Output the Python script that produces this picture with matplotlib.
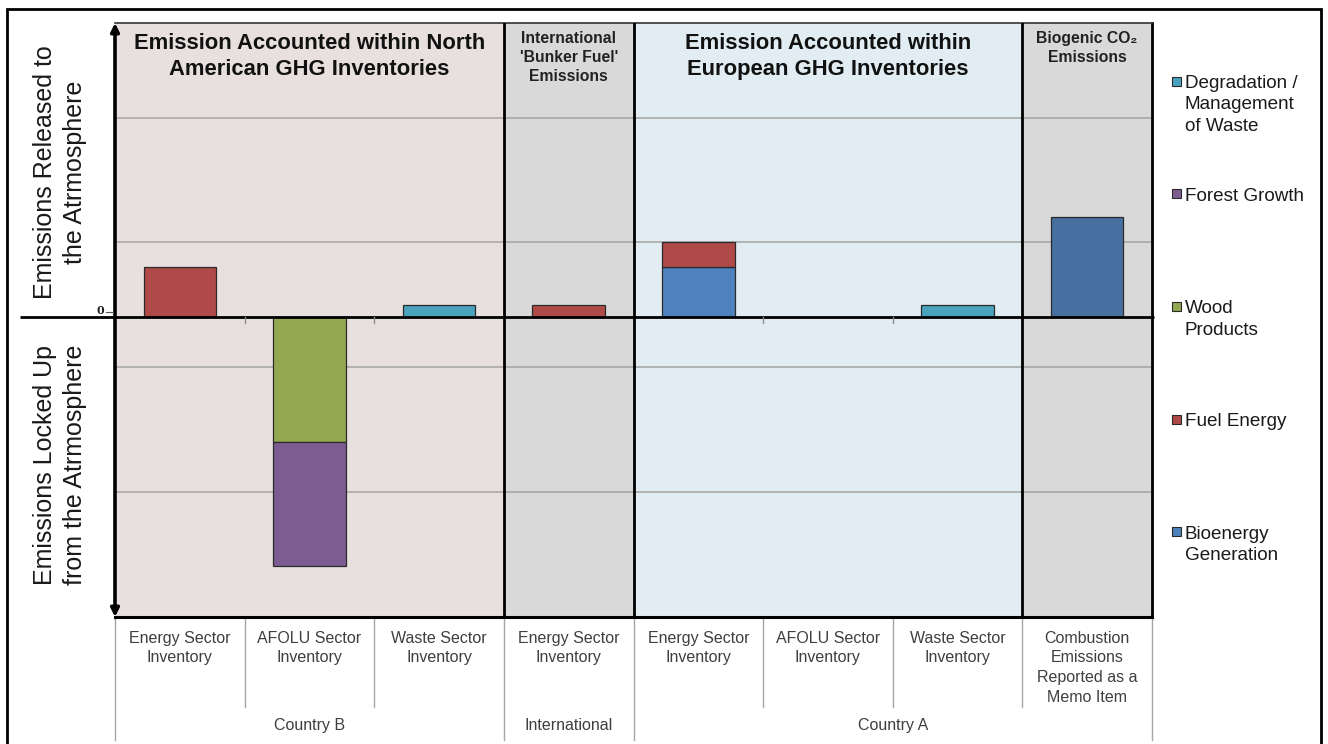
import matplotlib
matplotlib.use("Agg")
import matplotlib.pyplot as plt
from matplotlib.lines import Line2D
from matplotlib.patches import Rectangle
import matplotlib.transforms as mtransforms
import numpy as np

plt.rcParams['font.family'] = ['Liberation Sans', 'DejaVu Sans']

# ---- data -------------------------------------------------------------
categories = ["Energy Sector\nInventory", "AFOLU Sector\nInventory", "Waste Sector\nInventory",
              "Energy Sector\nInventory",
              "Energy Sector\nInventory", "AFOLU Sector\nInventory", "Waste Sector\nInventory",
              "Combustion\nEmissions\nReported as a\nMemo Item"]
groups = ["Country B", "International", "Country A"]
group_spans = [(0, 3), (3, 4), (4, 8)]

bioenergy = [0, 0, 0, 0, 0.2, 0, 0, 0.4]
fuel_energy = [0.2, 0, 0, 0.05, 0.1, 0, 0, 0]
waste_mgmt = [0, 0, 0.05, 0, 0, 0, 0.05, 0]
wood_products = [0, -0.5, 0, 0, 0, 0, 0, 0]
forest_growth = [0, -0.5, 0, 0, 0, 0, 0, 0]

panel_titles = ["Emission Accounted within North\nAmerican GHG Inventories",
                "International\n'Bunker Fuel'\nEmissions",
                "Emission Accounted within\nEuropean GHG Inventories",
                "Biogenic CO₂\nEmissions"]
panel_spans = [(0, 3), (3, 4), (4, 7), (7, 8)]
panel_colors = ["#E8E0DF", "#D9D9D9", "#E1EDF2", "#D9D9D9"]

grid_levels = [-0.7, -0.2, 0.3, 0.8]

legend_labels = ["Degradation /\nManagement\nof Waste", "Forest Growth", "Wood\nProducts",
                 "Fuel Energy", "Bioenergy\nGeneration"]

# ---- styling ----------------------------------------------------------
C_BIO = "#4F82BD"
C_BIO_MEMO = "#4770A1"
C_FUEL = "#B04A48"
C_WASTE = "#4AA3BE"
C_WOOD = "#93A851"
C_FOREST = "#7D5C91"
EDGE = "#2a2a2a"

W, H = 1328, 744
fig = plt.figure(figsize=(W / 100, H / 100), dpi=100)
fig.patch.set_facecolor("white")


def fx(x):
    return x / W


def fy(y):
    return 1 - y / H


left, right, top, bottom = 115, 1152, 23, 617
ax = fig.add_axes([fx(left), fy(bottom), (right - left) / W, (bottom - top) / H])
ax.set_xlim(0, 8)
ax.set_ylim(-1.203, 1.179)

# panel backgrounds
for (a, b), c in zip(panel_spans, panel_colors):
    ax.axvspan(a, b, color=c, zorder=0, lw=0)

# horizontal grid
for g in grid_levels:
    ax.axhline(g, color="#A3A3A3", lw=1.1, zorder=1)

# stacked bars
x = np.arange(len(categories)) + 0.5
bw = 0.56
pos_bottom = np.zeros(len(categories))
bio_colors = [C_BIO] * 7 + [C_BIO_MEMO]
for vals, cols in [(bioenergy, bio_colors), (fuel_energy, [C_FUEL] * 8), (waste_mgmt, [C_WASTE] * 8)]:
    v = np.array(vals, dtype=float)
    m = v != 0
    ax.bar(x[m], v[m], bw, bottom=pos_bottom[m], color=np.array(cols)[m],
           edgecolor=EDGE, lw=0.9, zorder=3)
    pos_bottom += v
neg_bottom = np.zeros(len(categories))
for vals, col in [(wood_products, C_WOOD), (forest_growth, C_FOREST)]:
    v = np.array(vals, dtype=float)
    m = v != 0
    ax.bar(x[m], v[m], bw, bottom=neg_bottom[m], color=col, edgecolor=EDGE, lw=0.9, zorder=3)
    neg_bottom += v

# panel dividers
for xb in [3, 4, 7]:
    ax.axvline(xb, color="black", lw=2.0, zorder=4)

# spines
ax.set_xticks([])
ax.set_yticks([])
ax.spines["top"].set_color("#333333")
ax.spines["top"].set_linewidth(1.2)
ax.spines["right"].set_linewidth(2.0)
ax.spines["bottom"].set_linewidth(2.2)
ax.spines["left"].set_visible(False)

# zero line extending to the left
ax.plot([-0.0916, 1.002], [0, 0], transform=mtransforms.blended_transform_factory(ax.transAxes, ax.transData),
        color="black", lw=2.0, clip_on=False, zorder=5, solid_capstyle="butt")

# small category ticks on the zero line
for xb in [1, 2, 5, 6]:
    ax.plot([xb, xb], [0, -0.025], color="#8C8C8C", lw=1.0, zorder=5)

# double-headed vertical axis arrow
ax.annotate("", xy=(0, 1.179), xytext=(0, -1.203), xycoords="data",
            arrowprops=dict(arrowstyle="<|-|>", color="black", lw=2.6,
                            mutation_scale=12, shrinkA=0, shrinkB=0),
            annotation_clip=False, zorder=6)

# zero label
fig.text(fx(100), fy(311), "0", family="DejaVu Serif", weight="bold", fontsize=8,
         ha="center", va="center", color="#222222")
fig.add_artist(Line2D([fx(106), fx(113)], [fy(312), fy(312)], color="#555555", lw=0.8))

# panel titles
tr = mtransforms.blended_transform_factory(ax.transData, ax.transAxes)
big_title = dict(fontsize=15.8, weight="bold", color="#111111", ha="center", va="top",
                 linespacing=1.32)
small_title = dict(fontsize=11.3, weight="bold", color="#222222", ha="center", va="top",
                   linespacing=1.3)
for (a, b), t in zip(panel_spans, panel_titles):
    style = big_title if (b - a) > 1 else small_title
    ytop = 0.983 if style is big_title else 0.986
    ax.text((a + b) / 2, ytop, t, transform=tr, **style, zorder=7)

# category labels
for xi, lab in zip(x, categories):
    ax.text(xi, -0.023, lab, transform=tr, ha="center", va="top", fontsize=11.5,
            color="#3F3F3F", linespacing=1.4)

# separator lines below the axis
inner = [1, 2, 5, 6, 7]
outer = [0, 3, 4, 8]
for xb in inner:
    ax.plot([xb, xb], [0, -0.152], transform=tr, color="#A6A6A6", lw=1.0, clip_on=False)
for xb in outer:
    ax.plot([xb, xb], [0, -0.207], transform=tr, color="#A6A6A6", lw=1.0, clip_on=False)

# group labels
for (a, b), g in zip(group_spans, groups):
    ax.text((a + b) / 2, -0.1835, g, transform=tr, ha="center", va="center",
            fontsize=11.5, color="#3F3F3F")

# y-axis descriptions
fig.text(fx(60), fy(172), "Emissions Released to\nthe Atrmosphere", rotation=90,
         ha="center", va="center", fontsize=18, color="#1a1a1a", linespacing=1.33,
         multialignment="center")
fig.text(fx(60), fy(465), "Emissions Locked Up\nfrom the Atrmosphere", rotation=90,
         ha="center", va="center", fontsize=18, color="#1a1a1a", linespacing=1.33,
         multialignment="center")

# legend
legend_colors = [C_WASTE, C_FOREST, C_WOOD, C_FUEL, C_BIO]
for i, (lab, col) in enumerate(zip(legend_labels, legend_colors)):
    yc = 81 + i * 112.7
    fig.add_artist(Rectangle((fx(1172), fy(yc + 4.5)), 9 / W, 9 / H, facecolor=col,
                             edgecolor=EDGE, lw=0.8, transform=fig.transFigure))
    fig.text(fx(1185), fy(yc - 6), lab, ha="left", va="top", fontsize=13.6,
             color="#1a1a1a", linespacing=1.33)

# outer frame
fig.add_artist(Rectangle((fx(7), fy(760)), (1321 - 7) / W, (760 - 9) / H, fill=False,
                         edgecolor="black", lw=2.0, transform=fig.transFigure, clip_on=False))

fig.savefig("out.png", dpi=100, facecolor="white")
